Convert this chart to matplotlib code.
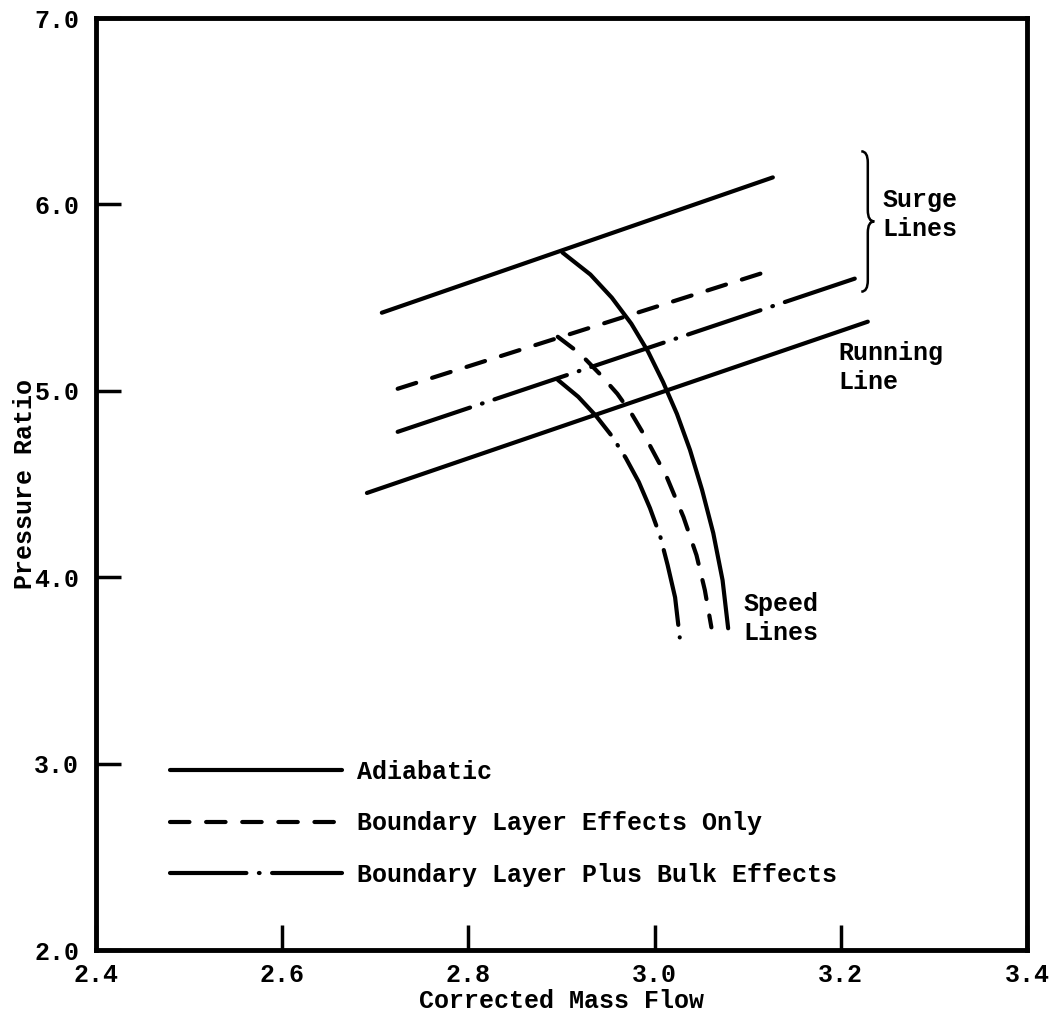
#Description: Compressor map with surge, running and speed lines

#Import the libraries
import numpy as np
import matplotlib
matplotlib.use('Agg')
import matplotlib.pyplot as plt
from matplotlib.path import Path
from matplotlib.patches import PathPatch

plt.rcParams['font.family'] = 'Liberation Mono'
plt.rcParams['font.weight'] = 'bold'
plt.rcParams['axes.labelweight'] = 'bold'
plt.rcParams['font.size'] = 18
plt.rcParams['lines.scale_dashes'] = False

#Surge lines (corrected mass flow, pressure ratio)
surge_adiabatic_x = [2.707, 3.127]
surge_adiabatic_y = [5.419, 6.145]
surge_bl_x = [2.724, 3.124]
surge_bl_y = [5.011, 5.645]
surge_bulk_x = [2.724, 3.215]
surge_bulk_y = [4.780, 5.602]

#Running line
running_x = [2.691, 3.229]
running_y = [4.452, 5.371]

#Speed lines
speed_adiabatic_x = [2.901, 2.931, 2.954, 2.975, 2.993, 3.009, 3.024, 3.038, 3.051, 3.063, 3.073, 3.079]
speed_adiabatic_y = [5.742, 5.624, 5.500, 5.360, 5.210, 5.048, 4.876, 4.683, 4.468, 4.237, 3.984, 3.726]
speed_bl_x = [2.896, 2.920, 2.941, 2.960, 2.976, 2.990, 3.013, 3.031, 3.045, 3.054, 3.061]
speed_bl_y = [5.290, 5.199, 5.091, 4.984, 4.871, 4.753, 4.538, 4.323, 4.118, 3.930, 3.731]
speed_bulk_x = [2.896, 2.918, 2.937, 2.954, 2.969, 2.983, 2.995, 3.006, 3.014, 3.022, 3.027]
speed_bulk_y = [5.059, 4.968, 4.866, 4.758, 4.640, 4.511, 4.371, 4.220, 4.065, 3.892, 3.677]

legend_labels = ['Adiabatic', 'Boundary Layer Effects Only', 'Boundary Layer Plus Bulk Effects']
x_ticks = [2.4, 2.6, 2.8, 3.0, 3.2, 3.4]
y_ticks = [2.0, 3.0, 4.0, 5.0, 6.0, 7.0]

#Line styles
lw = 3
solid = dict(color='black', lw=lw, solid_capstyle='round', solid_joinstyle='round')
dashed = dict(color='black', lw=lw, dashes=(14, 12), dash_capstyle='round')
dashdot = dict(color='black', lw=lw, dashes=(55, 9, 0.5, 9), dash_capstyle='round')

fig = plt.figure(figsize=(10.53, 10.19), dpi=100)
ax = fig.add_axes([0.0912, 0.0677, 0.8841, 0.9146])

#Surge lines and running line
l1, = ax.plot(surge_adiabatic_x, surge_adiabatic_y, **solid)
l2, = ax.plot(surge_bl_x, surge_bl_y, **dashed)
l3, = ax.plot(surge_bulk_x, surge_bulk_y, **dashdot)
ax.plot(running_x, running_y, **solid)

#Speed lines
ax.plot(speed_adiabatic_x, speed_adiabatic_y, **solid)
ax.plot(speed_bl_x, speed_bl_y, **dashed)
ax.plot(speed_bulk_x, speed_bulk_y, **dashdot)

#Curly brace for the surge lines
bx0, bx1, bx2 = 3.222, 3.229, 3.236
btop, bmid, bbot = 6.285, 5.909, 5.532
r = 0.06
verts = [(bx0, btop), (bx1, btop), (bx1, btop - r), (bx1, bmid + r), (bx1, bmid), (bx2, bmid),
         (bx2, bmid), (bx1, bmid), (bx1, bmid - r), (bx1, bbot + r), (bx1, bbot), (bx0, bbot)]
codes = [Path.MOVETO, Path.CURVE3, Path.CURVE3, Path.LINETO, Path.CURVE3, Path.CURVE3,
         Path.MOVETO, Path.CURVE3, Path.CURVE3, Path.LINETO, Path.CURVE3, Path.CURVE3]
ax.add_patch(PathPatch(Path(verts, codes), fill=False, lw=1.8, color='black'))

#Annotations
ax.text(3.245, 5.946, 'Surge\nLines', ha='left', va='center', linespacing=1.25)
ax.text(3.197, 5.124, 'Running\nLine', ha='left', va='center', linespacing=1.25)
ax.text(3.095, 3.780, 'Speed\nLines', ha='left', va='center', linespacing=1.25)

#Legend
leg = ax.legend([l1, l2, l3], legend_labels, loc='upper left', bbox_to_anchor=(0.079, 0.204),
                frameon=False, handlelength=6.9, handletextpad=0.6, labelspacing=1.1,
                borderpad=0, borderaxespad=0)

#Axes
ax.set_xlim(2.4, 3.4)
ax.set_ylim(2.0, 7.0)
ax.set_xticks(x_ticks)
ax.set_yticks(y_ticks)
ax.set_xticklabels(['%.1f' % t for t in x_ticks])
ax.set_yticklabels(['%.1f' % t for t in y_ticks])
ax.tick_params(direction='in', length=18, width=2.5, pad=9)
ax.tick_params(axis='y', pad=12)
for s in ax.spines.values():
    s.set_linewidth(3.5)
ax.set_xlabel('Corrected Mass Flow', labelpad=2)
ax.set_ylabel('Pressure Ratio', labelpad=-2)

fig.savefig('out.png', dpi=100)
